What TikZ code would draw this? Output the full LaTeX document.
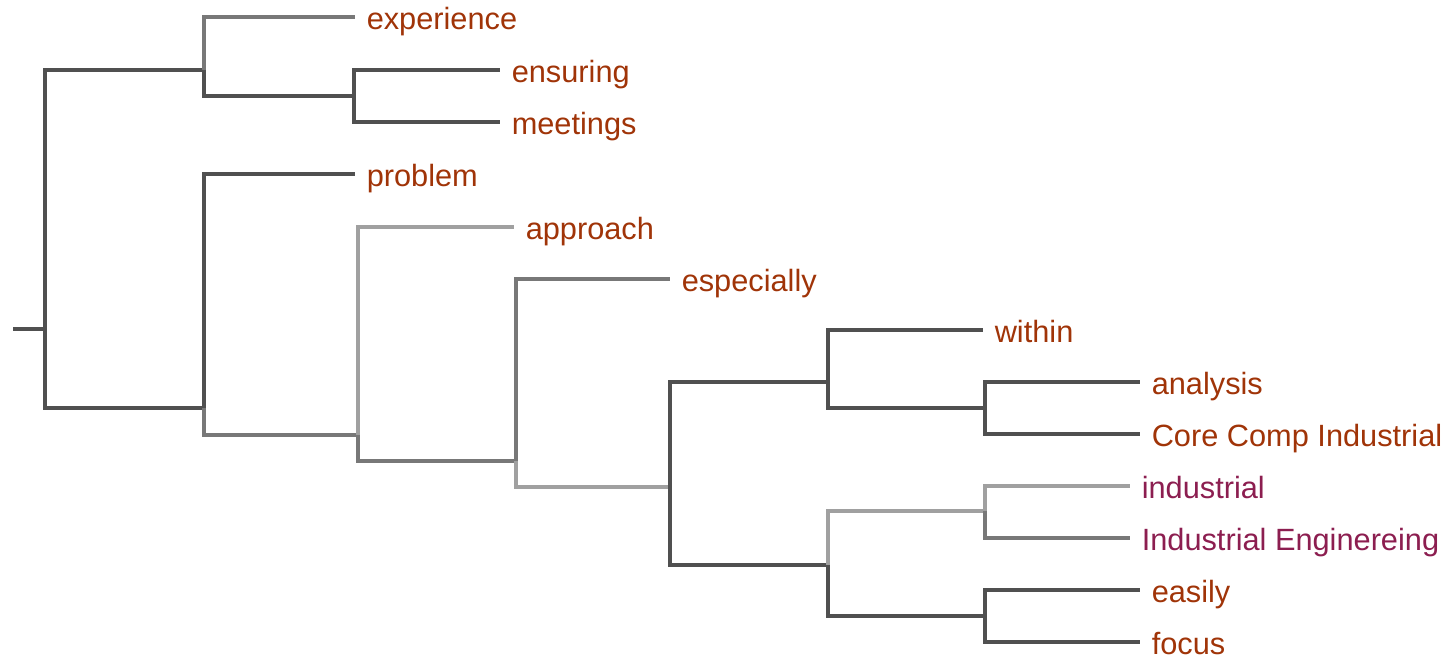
\documentclass[tikz,border=0pt]{standalone}
\usepackage{fontspec}
\setmainfont{Liberation Sans}
\usepackage{tikz}
\definecolor{TreeDark}{RGB}{80, 80, 80}
\definecolor{TreeMid}{RGB}{120, 120, 120}
\definecolor{TreeLight}{RGB}{160, 160, 160}
\definecolor{LabelBrown}{RGB}{160, 52, 8}
\definecolor{LabelPlum}{RGB}{140, 30, 80}
\tikzset{
  branch/.style={draw=TreeDark, line width=1.8pt},
  branchmid/.style={draw=TreeMid, line width=1.8pt},
  branchlight/.style={draw=TreeLight, line width=1.8pt},
  leaf/.style={anchor=west, inner xsep=6.5pt, inner ysep=0pt, text=LabelBrown,
    text height=14.4pt, text depth=0pt, font=\fontsize{17.5}{20}\selectfont}
}

\begin{document}
\begin{tikzpicture}[x=0.02cm, y=-0.02cm]
    \useasboundingbox (0,0) rectangle (1454,660);

    % Merge points
    \coordinate (stub) at (13,329);
    \coordinate (root) at (45,329);
    \coordinate (A) at (204,70);
    \coordinate (B) at (354,96);
    \coordinate (C) at (204,408);
    \coordinate (D) at (358,435);
    \coordinate (E) at (516,461);
    \coordinate (F) at (670,487);
    \coordinate (G) at (828,382);
    \coordinate (H) at (985,408);
    \coordinate (I) at (828,565);
    \coordinate (J) at (985,511);
    \coordinate (K) at (985,616);

    % Leaves
    \node[leaf] (experience) at (355,17) {experience};
    \node[leaf] (ensuring) at (500,70) {ensuring};
    \node[leaf] (meetings) at (500,122) {meetings};
    \node[leaf] (problem) at (355,174) {problem};
    \node[leaf] (approach) at (514,227) {approach};
    \node[leaf] (especially) at (670,279) {especially};
    \node[leaf] (within) at (983,330) {within};
    \node[leaf] (analysis) at (1140,382) {analysis};
    \node[leaf] (corecomp) at (1140,434) {Core Comp Industrial};
    \node[leaf, text=LabelPlum] (industrial) at (1130,486) {industrial};
    \node[leaf, text=LabelPlum] (indeng) at (1130,538) {Industrial Enginereing};
    \node[leaf] (easily) at (1140,590) {easily};
    \node[leaf] (focus) at (1140,642) {focus};

    % Branches
    \draw[branch] (stub) -- (root);
    \draw[branch] (root) |- (A);
    \draw[branch] (root) |- (C);

    \draw[branchmid] (A) |- (experience.west);
    \draw[branch] (A) |- (B);
    \draw[branch] (B) |- (ensuring.west);
    \draw[branch] (B) |- (meetings.west);

    \draw[branch] (C) |- (problem.west);
    \draw[branchmid] (C) |- (D);
    \draw[branchlight] (D) |- (approach.west);
    \draw[branchmid] (D) |- (E);
    \draw[branchmid] (E) |- (especially.west);
    \draw[branchlight] (E) |- (F);

    \draw[branch] (F) |- (G);
    \draw[branch] (G) |- (within.west);
    \draw[branch] (G) |- (H);
    \draw[branch] (H) |- (analysis.west);
    \draw[branch] (H) |- (corecomp.west);

    \draw[branch] (F) |- (I);
    \draw[branchlight] (I) |- (J);
    \draw[branchlight] (J) |- (industrial.west);
    \draw[branchmid] (J) |- (indeng.west);
    \draw[branch] (I) |- (K);
    \draw[branch] (K) |- (easily.west);
    \draw[branch] (K) |- (focus.west);
\end{tikzpicture}
\end{document}
